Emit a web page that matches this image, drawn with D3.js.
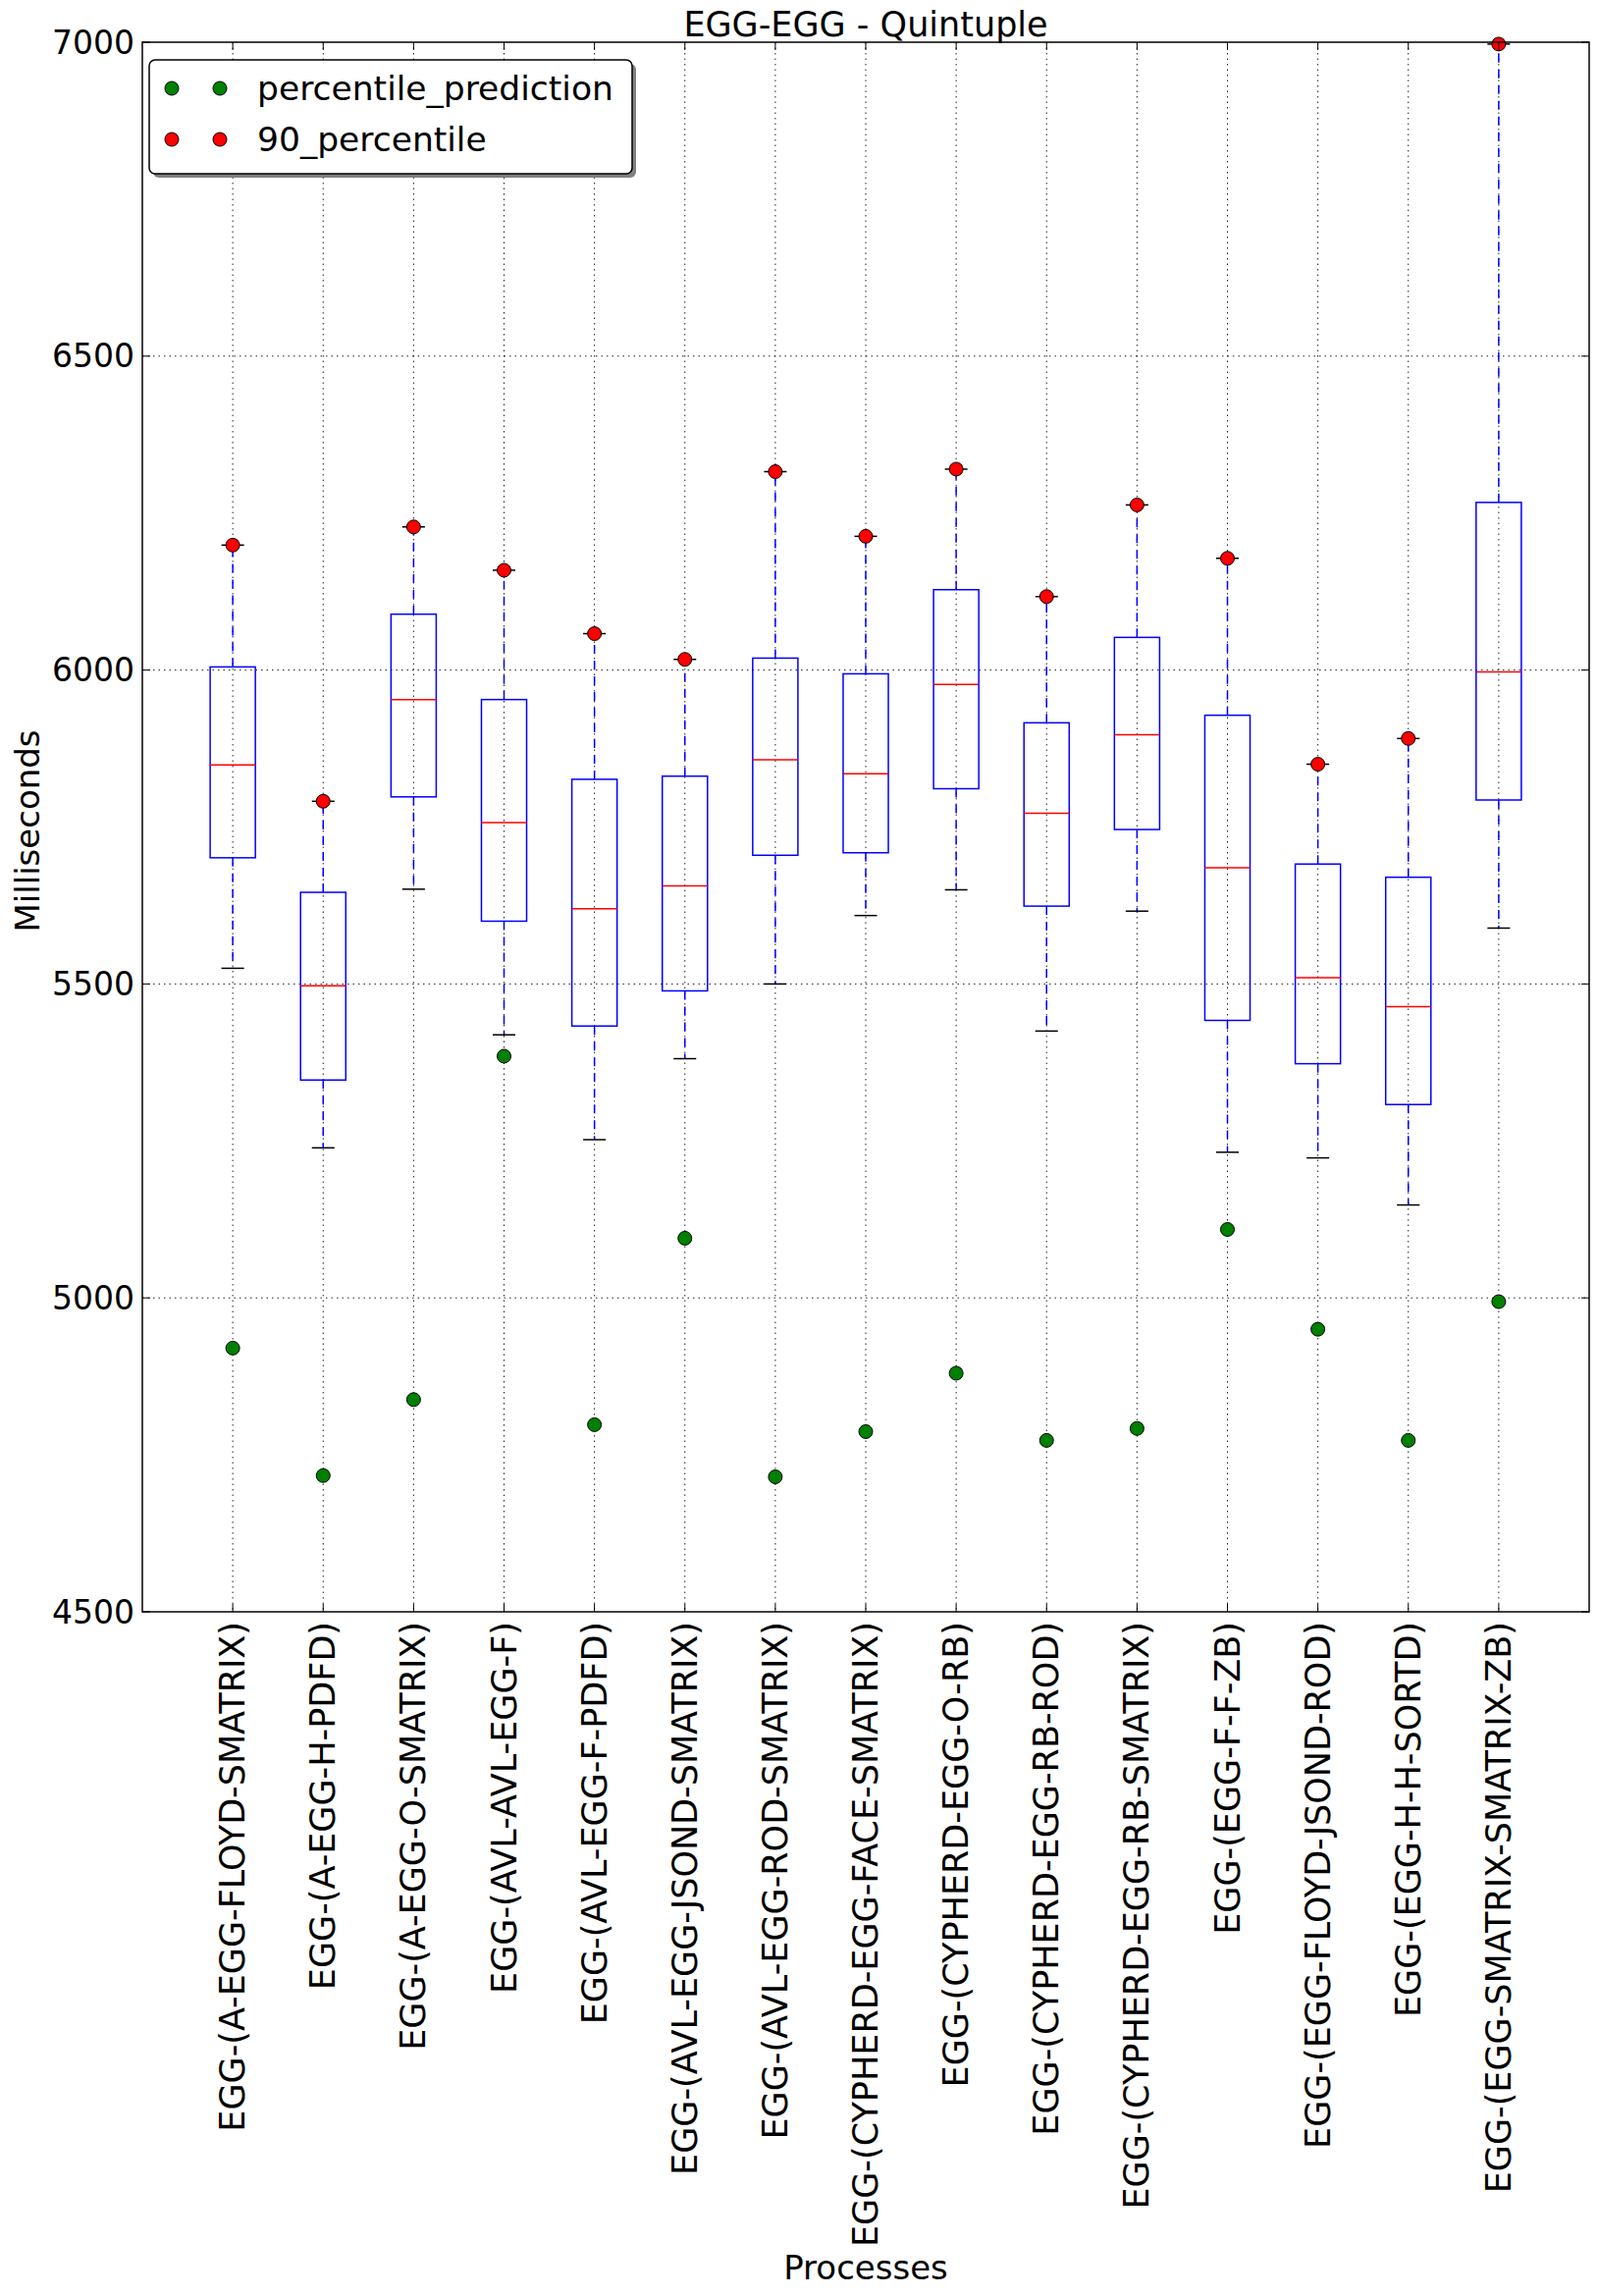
<!DOCTYPE html>
<html>
<head>
<meta charset="utf-8">
<script src="https://cdn.jsdelivr.net/npm/d3@7"></script>
<style>
  body { margin: 0; background: #fff; }
  svg { display: block; }
  text { font-family: "DejaVu Sans", sans-serif; fill: #000; }
</style>
</head>
<body>
<div id="chart"></div>
<script>
const processes = [
  'EGG-(A-EGG-FLOYD-SMATRIX)', 'EGG-(A-EGG-H-PDFD)', 'EGG-(A-EGG-O-SMATRIX)',
  'EGG-(AVL-AVL-EGG-F)', 'EGG-(AVL-EGG-F-PDFD)', 'EGG-(AVL-EGG-JSOND-SMATRIX)',
  'EGG-(AVL-EGG-ROD-SMATRIX)', 'EGG-(CYPHERD-EGG-FACE-SMATRIX)', 'EGG-(CYPHERD-EGG-O-RB)',
  'EGG-(CYPHERD-EGG-RB-ROD)', 'EGG-(CYPHERD-EGG-RB-SMATRIX)', 'EGG-(EGG-F-F-ZB)',
  'EGG-(EGG-FLOYD-JSOND-ROD)', 'EGG-(EGG-H-H-SORTD)', 'EGG-(EGG-SMATRIX-SMATRIX-ZB)'
];
const whiskerLow  = [5525, 5239, 5651, 5419, 5252, 5381, 5500, 5609, 5650, 5425, 5616, 5232, 5223, 5148, 5589];
const q1          = [5701, 5347, 5798, 5600, 5433, 5489, 5705, 5709, 5811, 5624, 5746, 5442, 5373, 5308, 5793];
const median      = [5849, 5497, 5953, 5757, 5620, 5656, 5857, 5835, 5977, 5772, 5897, 5685, 5510, 5464, 5997];
const q3          = [6005, 5646, 6089, 5953, 5826, 5831, 6019, 5994, 6128, 5916, 6052, 5928, 5691, 5670, 6267];
const whiskerHigh = [6199, 5791, 6228, 6159, 6058, 6017, 6316, 6213, 6320, 6117, 6263, 6178, 5850, 5891, 6997];
const percentile90 = [6199, 5791, 6228, 6159, 6058, 6017, 6316, 6213, 6320, 6117, 6263, 6178, 5850, 5891, 6997];
const percentilePrediction = [4920, 4717, 4838, 5385, 4798, 5095, 4715, 4787, 4880, 4773, 4792, 5109, 4950, 4773, 4994];
const yTicks = [4500, 5000, 5500, 6000, 6500, 7000];

const width = 1627, height = 2339;
const plotLeft = 145, plotRight = 1619, plotTop = 43, plotBottom = 1642;

const x = d3.scaleLinear().domain([0, 16]).range([plotLeft, plotRight]);
const y = d3.scaleLinear().domain([4500, 7000]).range([plotBottom, plotTop]);
const boxW = x(0.5) - x(0);
const capW = x(0.25) - x(0);

const svg = d3.select('#chart').append('svg')
  .attr('width', width)
  .attr('height', height);

// grid (dotted)
const grid = svg.append('g').attr('stroke', '#222').attr('stroke-width', 1).attr('stroke-dasharray', '1.5,4');
grid.selectAll('.gx').data(processes).join('line')
  .attr('x1', (d, i) => x(i + 1)).attr('x2', (d, i) => x(i + 1))
  .attr('y1', plotTop).attr('y2', plotBottom);
grid.selectAll('.gy').data(yTicks.slice(1, -1)).join('line')
  .attr('x1', plotLeft).attr('x2', plotRight)
  .attr('y1', d => y(d)).attr('y2', d => y(d));

// boxes
const boxes = svg.append('g').selectAll('g').data(processes).join('g');

boxes.append('line')
  .attr('x1', (d, i) => x(i + 1)).attr('x2', (d, i) => x(i + 1))
  .attr('y1', (d, i) => y(q3[i])).attr('y2', (d, i) => y(whiskerHigh[i]))
  .attr('stroke', '#0000ff').attr('stroke-width', 1.5).attr('stroke-dasharray', '9,7');
boxes.append('line')
  .attr('x1', (d, i) => x(i + 1)).attr('x2', (d, i) => x(i + 1))
  .attr('y1', (d, i) => y(q1[i])).attr('y2', (d, i) => y(whiskerLow[i]))
  .attr('stroke', '#0000ff').attr('stroke-width', 1.5).attr('stroke-dasharray', '9,7');

boxes.append('rect')
  .attr('x', (d, i) => x(i + 1) - boxW / 2)
  .attr('y', (d, i) => y(q3[i]))
  .attr('width', boxW)
  .attr('height', (d, i) => y(q1[i]) - y(q3[i]))
  .attr('fill', 'none').attr('stroke', '#0000ff').attr('stroke-width', 1.5);

boxes.append('line')
  .attr('x1', (d, i) => x(i + 1) - boxW / 2).attr('x2', (d, i) => x(i + 1) + boxW / 2)
  .attr('y1', (d, i) => y(median[i])).attr('y2', (d, i) => y(median[i]))
  .attr('stroke', '#ff0000').attr('stroke-width', 1.5);

[whiskerLow, whiskerHigh].forEach(arr => {
  boxes.append('line')
    .attr('x1', (d, i) => x(i + 1) - capW / 2).attr('x2', (d, i) => x(i + 1) + capW / 2)
    .attr('y1', (d, i) => y(arr[i])).attr('y2', (d, i) => y(arr[i]))
    .attr('stroke', '#000').attr('stroke-width', 1.5);
});

// points
svg.append('g').selectAll('circle').data(percentilePrediction).join('circle')
  .attr('cx', (d, i) => x(i + 1)).attr('cy', d => y(d)).attr('r', 7)
  .attr('fill', '#008000').attr('stroke', '#000').attr('stroke-width', 1);
svg.append('g').selectAll('circle').data(percentile90).join('circle')
  .attr('cx', (d, i) => x(i + 1)).attr('cy', d => y(d)).attr('r', 7)
  .attr('fill', '#ff0000').attr('stroke', '#000').attr('stroke-width', 1);

// frame
svg.append('rect')
  .attr('x', plotLeft).attr('y', plotTop).attr('width', plotRight - plotLeft).attr('height', plotBottom - plotTop)
  .attr('fill', 'none').attr('stroke', '#000').attr('stroke-width', 1.5);

// ticks (inward, classic style)
const ticks = svg.append('g').attr('stroke', '#000').attr('stroke-width', 1);
yTicks.forEach(v => {
  ticks.append('line').attr('x1', plotLeft).attr('x2', plotLeft + 8).attr('y1', y(v)).attr('y2', y(v));
  ticks.append('line').attr('x1', plotRight).attr('x2', plotRight - 8).attr('y1', y(v)).attr('y2', y(v));
});
processes.forEach((p, i) => {
  ticks.append('line').attr('x1', x(i + 1)).attr('x2', x(i + 1)).attr('y1', plotBottom).attr('y2', plotBottom - 8);
  ticks.append('line').attr('x1', x(i + 1)).attr('x2', x(i + 1)).attr('y1', plotTop).attr('y2', plotTop + 8);
});

// tick labels
svg.append('g').selectAll('text').data(yTicks).join('text')
  .attr('x', plotLeft - 8).attr('y', d => y(d))
  .attr('text-anchor', 'end').attr('dominant-baseline', 'central')
  .style('font-size', '33px')
  .text(d => d);

svg.append('g').selectAll('text').data(processes).join('text')
  .attr('transform', (d, i) => `translate(${x(i + 1)},${plotBottom + 10}) rotate(-90)`)
  .attr('text-anchor', 'end').attr('dominant-baseline', 'central')
  .style('font-size', '35px')
  .text(d => d);

// titles
svg.append('text')
  .attr('x', (plotLeft + plotRight) / 2).attr('y', 37)
  .attr('text-anchor', 'middle')
  .style('font-size', '35px')
  .text('EGG-EGG - Quintuple');

svg.append('text')
  .attr('x', (plotLeft + plotRight) / 2).attr('y', 2322)
  .attr('text-anchor', 'middle')
  .style('font-size', '34px')
  .text('Processes');

svg.append('text')
  .attr('transform', `translate(40,${(plotTop + plotBottom) / 2 + 4}) rotate(-90)`)
  .attr('text-anchor', 'middle')
  .style('font-size', '34px')
  .text('Milliseconds');

// legend
const lg = svg.append('g');
lg.append('rect').attr('x', 156).attr('y', 65).attr('width', 492).attr('height', 116)
  .attr('rx', 6).attr('fill', '#808080');
lg.append('rect').attr('x', 152).attr('y', 61).attr('width', 492).attr('height', 116)
  .attr('rx', 6).attr('fill', '#fff').attr('stroke', '#000').attr('stroke-width', 1.5);
const legendItems = [
  { label: 'percentile_prediction', color: '#008000' },
  { label: '90_percentile', color: '#ff0000' }
];
legendItems.forEach((it, k) => {
  const cy = 90 + k * 52;
  [175, 224].forEach(cx => lg.append('circle').attr('cx', cx).attr('cy', cy).attr('r', 7)
    .attr('fill', it.color).attr('stroke', '#000').attr('stroke-width', 1));
  lg.append('text').attr('x', 262).attr('y', cy).attr('dominant-baseline', 'central')
    .style('font-size', '34.5px').text(it.label);
});
</script>
</body>
</html>
